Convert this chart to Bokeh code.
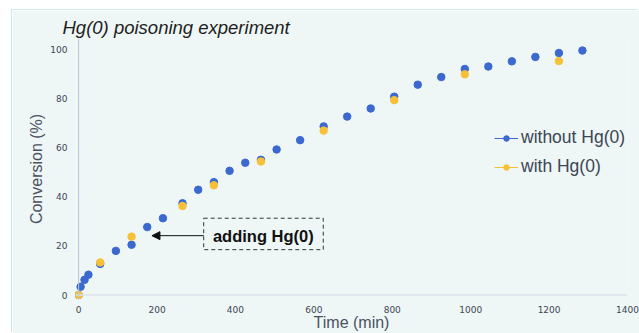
from bokeh.plotting import figure
from bokeh.models import (Range1d, Span, Legend, LegendItem, Label, BoxAnnotation,
                          Arrow, NormalHead, FixedTicker, ColumnDataSource)
from bokeh.embed import file_html
from bokeh.resources import INLINE

# ---- data ----
time_without = [0, 5, 15, 25, 55, 95, 135, 175, 215, 265, 305, 345, 385, 425, 465,
                505, 565, 625, 685, 745, 805, 865, 925, 985, 1045, 1105, 1165, 1225, 1285]
conv_without = [0, 3.4, 6.2, 8.3, 12.7, 18.0, 20.5, 27.7, 31.3, 37.4, 42.9, 46.0, 50.6, 53.9, 55.1,
                59.3, 63.1, 68.7, 72.7, 76.0, 80.8, 85.7, 88.8, 92.1, 93.1, 95.2, 97.0, 98.6, 99.6]
time_with = [0, 55, 135, 265, 345, 465, 625, 805, 985, 1225]
conv_with = [0, 13.3, 23.8, 36.3, 44.7, 54.4, 67.0, 79.4, 89.9, 95.3]
x_ticks = [0, 200, 400, 600, 800, 1000, 1200, 1400]
y_ticks = [0, 20, 40, 60, 80, 100]

BLUE = "#3c69d0"
YELLOW = "#f7c137"
BG = "#eef6f6"
TEXT = "#3d4654"

p = figure(width=627, height=323, output_backend="svg", toolbar_location=None,
           x_range=Range1d(-8, 1400), y_range=Range1d(-1.8, 104.5),
           min_border_left=63, min_border_right=12, min_border_top=28, min_border_bottom=34,
           background_fill_color=BG, border_fill_color=BG, outline_line_color=None)
p.margin = (10, 0, 0, 12)
p.styles = {"box-shadow": "-1px -1px 0 0 #d3e7ea"}

p.grid.visible = False

# title
p.title.text = "Hg(0) poisoning experiment"
p.title.text_font = "Liberation Sans"
p.title.text_font_size = "18.5px"
p.title.text_font_style = "italic"
p.title.text_color = "#1e1e1e"
p.title.align = "left"
p.title.offset = -13
p.title.standoff = 1

for ax in (p.xaxis[0], p.yaxis[0]):
    ax.axis_line_color = None
    ax.major_tick_line_color = None
    ax.minor_tick_line_color = None
    ax.major_tick_out = 0
    ax.major_tick_in = 0
    ax.minor_tick_out = 0
    ax.minor_tick_in = 0
    ax.major_label_text_font = "DejaVu Sans"
    ax.major_label_text_font_size = "9px"
    ax.major_label_text_color = TEXT
    ax.axis_label_text_font = "Liberation Sans"
    ax.axis_label_text_font_size = "16px"
    ax.axis_label_text_font_style = "normal"
    ax.axis_label_text_color = "#4a5260"

p.xaxis.ticker = FixedTicker(ticks=x_ticks)
p.yaxis.ticker = FixedTicker(ticks=y_ticks)
p.xaxis.axis_label = "Time (min)"
p.yaxis.axis_label = "Conversion (%)"
p.xaxis.major_label_standoff = 6
p.xaxis.axis_label_standoff = -2
p.yaxis.major_label_standoff = 8
p.yaxis.axis_label_standoff = 2

# axis lines
p.add_layout(Span(location=0, dimension="width", line_color="#dde3ea", line_width=1.5))
p.add_layout(Span(location=0, dimension="height", line_color="#b9c6d2", line_width=1))

src_wo = ColumnDataSource(dict(t=time_without, c=conv_without))
src_w = ColumnDataSource(dict(t=time_with, c=conv_with))

# legend-only line renderers (single point -> nothing drawn on the plot)
l_wo = p.line(x=time_without[:1], y=conv_without[:1], line_color=BLUE, line_width=1)
l_w = p.line(x=time_with[:1], y=conv_with[:1], line_color=YELLOW, line_width=1)

r_wo = p.scatter("t", "c", source=src_wo, size=7.5, color=BLUE)
r_w = p.scatter("t", "c", source=src_w, size=7.5, color=YELLOW)

legend = Legend(items=[LegendItem(label="without Hg(0)", renderers=[l_wo, r_wo]),
                       LegendItem(label="with Hg(0)", renderers=[l_w, r_w])],
                location=(419, 122), padding=0, margin=0, spacing=8,
                glyph_width=24, glyph_height=14, label_height=14, label_standoff=3,
                label_text_font="Liberation Sans", label_text_font_size="17.5px",
                label_text_color=TEXT, background_fill_alpha=0, border_line_color=None)
p.add_layout(legend)

# annotation
p.add_layout(BoxAnnotation(left=319, right=624, bottom=18.5, top=31.3,
                           fill_alpha=0, line_color="#333333", line_alpha=1, line_width=1,
                           line_dash="4 3"))
p.add_layout(Label(x=471, y=24.2, text="adding Hg(0)", text_font="Liberation Sans",
                   text_font_size="16.5px", text_font_style="bold",
                   text_color="#111111", text_align="center", text_baseline="middle"))
p.add_layout(Arrow(x_start=319, y_start=24.2, x_end=187, y_end=24.2,
                   line_color="#111111", line_width=1,
                   end=NormalHead(size=8, fill_color="#111111", line_color="#111111")))

open("out.html", "w").write(file_html(p, INLINE))
